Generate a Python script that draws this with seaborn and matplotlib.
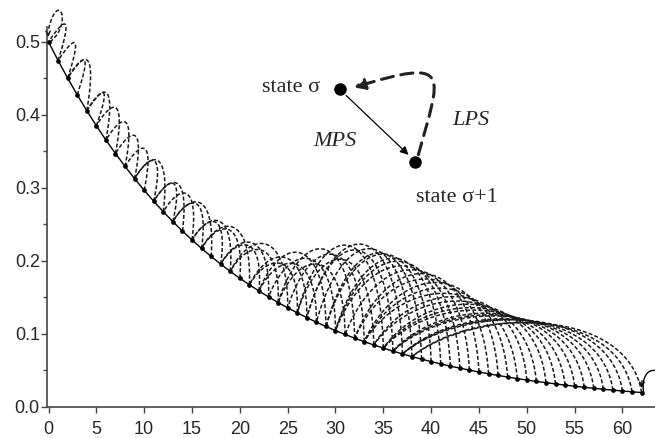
# CABAC probability state machine: LPS probability per state, MPS steps (solid) and LPS jumps (dashed)
import numpy as np
import matplotlib
matplotlib.use("Agg")
import matplotlib.pyplot as plt
from matplotlib.path import Path
from matplotlib.patches import FancyArrowPatch
import pandas as pd
import seaborn as sns

# state index sigma
states = list(range(63))

# LPS probability p_sigma for each state
p_lps = [0.5000, 0.4746, 0.4505, 0.4276, 0.4059, 0.3853, 0.3657, 0.3472, 0.3295, 0.3128,
         0.2969, 0.2818, 0.2675, 0.2539, 0.2410, 0.2288, 0.2172, 0.2062, 0.1957, 0.1857,
         0.1763, 0.1674, 0.1589, 0.1508, 0.1431, 0.1359, 0.1290, 0.1224, 0.1162, 0.1103,
         0.1047, 0.0994, 0.0943, 0.0895, 0.0850, 0.0807, 0.0766, 0.0727, 0.0690, 0.0655,
         0.0622, 0.0590, 0.0560, 0.0532, 0.0505, 0.0479, 0.0455, 0.0432, 0.0410, 0.0389,
         0.0369, 0.0350, 0.0333, 0.0316, 0.0300, 0.0284, 0.0270, 0.0256, 0.0243, 0.0231,
         0.0219, 0.0208, 0.0198]

# next state after an LPS
trans_lps = [0, 0, 1, 2, 2, 4, 4, 5, 6, 7, 8, 9, 9, 11, 11, 12, 13, 13, 15, 15,
             16, 16, 18, 18, 19, 19, 21, 21, 22, 22, 23, 24, 24, 25, 26, 26, 27, 27, 28, 29,
             29, 30, 30, 30, 31, 32, 32, 33, 33, 33, 34, 34, 35, 35, 35, 36, 36, 36, 37, 37,
             37, 38, 38]

x_ticks = [0, 5, 10, 15, 20, 25, 30, 35, 40, 45, 50, 55, 60]
y_ticks = [0.0, 0.1, 0.2, 0.3, 0.4, 0.5]
y_labels = ["0.0", "0.1", "0.2", "0.3", "0.4", "0.5"]

df = pd.DataFrame({"state": states, "p": p_lps})

sns.set_style("ticks")
plt.rcParams["font.family"] = ["Liberation Sans", "DejaVu Sans"]

fig = plt.figure(figsize=(6.55, 4.38), dpi=100)
ax = fig.add_axes([0.0713, 0.0708, 0.9287, 0.9292])

dash_col = "#1a1a1a"


def bezier(p0, p1, p2, p3, n=60):
    t = np.linspace(0, 1, n)[:, None]
    pts = ((1 - t) ** 3) * np.array(p0) + 3 * ((1 - t) ** 2) * t * np.array(p1) \
        + 3 * (1 - t) * t ** 2 * np.array(p2) + t ** 3 * np.array(p3)
    return pts[:, 0], pts[:, 1]


def arc_height(span):
    # how far the arch rises above its target state
    if span < 10:
        return 0.024 + 0.076 * np.exp(-((span - 10) / 3.0) ** 2)
    return 0.045 + 0.055 * np.exp(-((span - 10) / 6.0) ** 2)


# LPS transitions as dashed arches
for s in states[1:]:
    t = trans_lps[s]
    x0, y0 = s, p_lps[s]
    x1, y1 = t, p_lps[t]
    span = s - t
    top = y1 + arc_height(span)
    ctrl_y = (top - 0.125 * (y0 + y1)) / 0.75
    bulge = 2.0 * np.exp(-span / 4)
    c1 = (x0 + bulge - 0.06 * span, ctrl_y)
    c2 = (x1 + bulge + 0.28 * span, ctrl_y)
    xs, ys = bezier((x0, y0), c1, c2, (x1, y1))
    ax.plot(xs, ys, color=dash_col, lw=1.1, dashes=(2.6, 1.4), zorder=2)

# self loop of state 0 (LPS)
xs, ys = bezier((0.15, 0.5), (2.6, 0.525), (1.0, 0.575), (-0.05, 0.515))
ax.plot(xs, ys, color=dash_col, lw=1.1, dashes=(2.6, 1.4), clip_on=False, zorder=2)
ax.annotate("", xy=(0, 0.503), xytext=(-0.05, 0.516),
            arrowprops=dict(arrowstyle="->", color=dash_col, lw=1.0, mutation_scale=8),
            annotation_clip=False)

# self loop of state 62 (MPS)
xs, ys = bezier((62.2, 0.021), (61.8, 0.06), (64.6, 0.06), (64.6, 0.02))
ax.plot(xs, ys, color="black", lw=1.0, clip_on=False, zorder=3)
ax.annotate("", xy=(62, 0.022), xytext=(62.05, 0.04),
            arrowprops=dict(arrowstyle="->", color="black", lw=1.0, mutation_scale=8),
            annotation_clip=False)

# MPS transitions: solid line through all states
sns.lineplot(data=df, x="state", y="p", ax=ax, color="black", lw=1.0,
             marker="o", markersize=3.4, markeredgewidth=0, zorder=4)

# inset sketch of a single state pair
tr = ax.transAxes
d1 = (0.482, 0.781)
d2 = (0.606, 0.602)
ax.plot(*zip(d1, d2), "o", color="black", markersize=8, transform=tr, zorder=5)
ax.annotate("", xy=(0.598, 0.615), xytext=(0.489, 0.770), xycoords=tr, textcoords=tr,
            arrowprops=dict(arrowstyle="-|>", color="black", lw=0.9, mutation_scale=12))
lps_path = Path([(0.611, 0.62), (0.648, 0.82), (0.668, 0.86), (0.505, 0.785)],
                [Path.MOVETO, Path.CURVE4, Path.CURVE4, Path.CURVE4])
ax.add_patch(FancyArrowPatch(path=lps_path, transform=tr, arrowstyle="-|>",
                             mutation_scale=16, color="#222222", lw=2.2,
                             linestyle=(0, (4, 2.5)), zorder=5))
serif = ["Liberation Serif", "DejaVu Serif"]
ax.text(0.449, 0.784, "state σ", transform=tr, ha="right", va="center",
        fontsize=16, family=serif)
ax.text(0.675, 0.514, "state σ+1", transform=tr, ha="center", va="center",
        fontsize=16, family=serif)
ax.text(0.474, 0.652, "MPS", transform=tr, ha="center", va="center",
        fontsize=16, family=serif, style="italic")
ax.text(0.698, 0.705, "LPS", transform=tr, ha="center", va="center",
        fontsize=16, family=serif, style="italic")

# axes
ax.set_xlim(-0.19, 63.4)
ax.set_ylim(0, 0.5575)
ax.set_xticks(x_ticks)
ax.set_xticklabels([str(v) for v in x_ticks])
ax.set_yticks(y_ticks)
ax.set_yticklabels(y_labels)
ax.set_yticks(np.arange(0.05, 0.5, 0.1), minor=True)
ax.set_xlabel("")
ax.set_ylabel("")
ax.tick_params(axis="both", labelsize=13, length=4, width=1, color="#444444")
ax.tick_params(axis="x", pad=6)
ax.tick_params(axis="y", pad=1)
ax.tick_params(axis="y", which="minor", length=3, width=1, color="#444444")
sns.despine(ax=ax)
ax.spines["left"].set_bounds(0, 0.52)
for side in ["left", "bottom"]:
    ax.spines[side].set_color("#444444")
    ax.spines[side].set_linewidth(1.2)

fig.savefig("out.png", dpi=100)
